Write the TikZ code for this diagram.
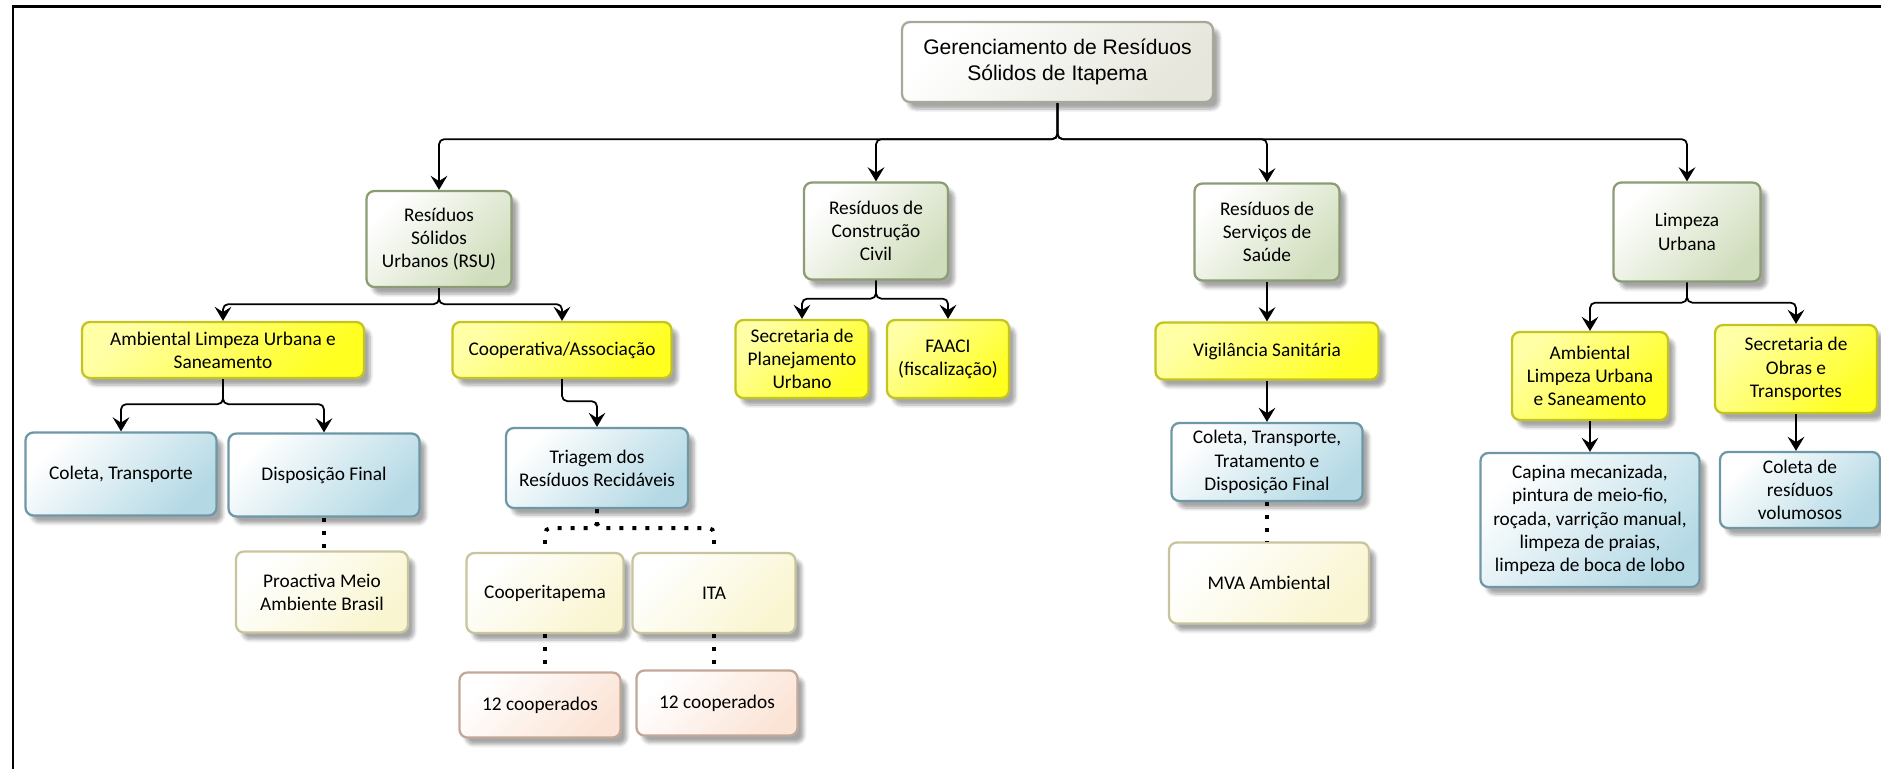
\documentclass[tikz,border=0pt]{standalone}
\usepackage{fontspec}
\setmainfont{Carlito}
\newfontfamily\rootfont{Liberation Sans}
\usetikzlibrary{arrows.meta,shadows.blur}

\definecolor{rootline}{HTML}{A8A898}
\definecolor{rootfill}{HTML}{E6E6DC}
\definecolor{greenline}{HTML}{8C9C74}
\definecolor{greenfill}{HTML}{D0DDBC}
\definecolor{yellowline}{HTML}{C4C420}
\definecolor{yellowfill}{HTML}{FFFF20}
\definecolor{blueline}{HTML}{6E98A6}
\definecolor{bluefill}{HTML}{B4D9E5}
\definecolor{creamline}{HTML}{C8C59E}
\definecolor{creamfill}{HTML}{F9F5D0}
\definecolor{peachline}{HTML}{C2A898}
\definecolor{peachfill}{HTML}{FBE4D6}

\tikzset{
 orgbox/.style={draw, rounded corners=4.5pt, line width=1.3pt, align=center, inner sep=2pt,
  blur shadow={shadow xshift=3.5pt, shadow yshift=-4pt, shadow blur steps=6, shadow opacity=35}},
 sz/.style 2 args={minimum width=#1*0.02cm, minimum height=#2*0.02cm},
 rootbox/.style={orgbox, draw=rootline, top color=white, bottom color=rootfill, shading angle=45,
  font=\rootfont\fontsize{12}{14.5}\selectfont},
 greenbox/.style={orgbox, draw=greenline, top color=white, bottom color=greenfill, shading angle=45},
 yellowbox/.style={orgbox, draw=yellowline, top color=yellow!35, bottom color=yellowfill, shading angle=45},
 bluebox/.style={orgbox, draw=blueline, top color=white, bottom color=bluefill, shading angle=45},
 creambox/.style={orgbox, draw=creamline, top color=white, bottom color=creamfill, shading angle=45},
 peachbox/.style={orgbox, draw=peachline, top color=white, bottom color=peachfill, shading angle=45},
 link/.style={-{Stealth[length=8pt,width=9.5pt,inset=3pt]}, line width=1pt, rounded corners=3pt},
 dots/.style={line width=2.2pt, dash pattern=on 2.2pt off 5.2pt, rounded corners=3pt}
}

\begin{document}
\begin{tikzpicture}[x=0.02cm, y=-0.02cm, font=\fontsize{11}{13.2}\selectfont]
 \useasboundingbox (0,0) rectangle (1881,769);
 \draw[line width=1.7pt] (13,769) -- (13,6) -- (1881,6);

 % top
 \node[rootbox, sz={311}{80}] (root) at (1057.5,62) {Gerenciamento de Resíduos\\Sólidos de Itapema};

 % first level
 \node[greenbox, sz={145}{96}] (rsu) at (439,239) {Resíduos\\Sólidos\\Urbanos (RSU)};
 \node[greenbox, sz={144}{97}] (cc) at (876,231) {Resíduos de\\Construção\\Civil};
 \node[greenbox, sz={145}{97}] (saude) at (1267,232) {Resíduos de\\Serviços de\\Saúde};
 \node[greenbox, sz={147}{99}] (limpeza) at (1687,232) {Limpeza\\Urbana};

 % second level
 \node[yellowbox, sz={282}{56}] (amb) at (223,350) {Ambiental Limpeza Urbana e\\Saneamento};
 \node[yellowbox, sz={219}{56}] (coop) at (562,350) {Cooperativa/Associação};
 \node[yellowbox, sz={133}{78}] (secplan) at (802,359) {Secretaria de\\Planejamento\\Urbano};
 \node[yellowbox, sz={122}{78}] (faaci) at (948,359) {FAACI\\(fiscalização)};
 \node[yellowbox, sz={223}{57}] (vigil) at (1267,351) {Vigilância Sanitária};
 \node[yellowbox, sz={156}{88}] (amblu) at (1590,376) {Ambiental\\Limpeza Urbana\\e Saneamento};
 \node[yellowbox, sz={162}{88}] (secobras) at (1796,369) {Secretaria de\\Obras e\\Transportes};

 % third level
 \node[bluebox, sz={191}{83}] (coleta) at (121,474) {Coleta, Transporte};
 \node[bluebox, sz={191}{83}] (dispfin) at (324,475) {Disposição Final};
 \node[bluebox, sz={182}{80}] (triagem) at (597,468) {Triagem dos\\Resíduos Recidáveis};
 \node[bluebox, sz={191}{78}] (coletasaude) at (1267,462) {Coleta, Transporte,\\Tratamento e\\Disposição Final};
 \node[bluebox, sz={219}{134}] (capina) at (1590,520) {Capina mecanizada,\\pintura de meio-fio,\\roçada, varrição manual,\\limpeza de praias,\\limpeza de boca de lobo};
 \node[bluebox, sz={160}{76}] (volumosos) at (1800,490) {Coleta de\\resíduos\\volumosos};

 % executors
 \node[creambox, sz={172}{81}] (proactiva) at (322,592) {Proactiva Meio\\Ambiente Brasil};
 \node[creambox, sz={157}{80}] (cooperit) at (545,593) {Cooperitapema};
 \node[creambox, sz={163}{80}] (ita) at (714,593) {ITA};
 \node[creambox, sz={200}{81}] (mva) at (1269,583) {MVA Ambiental};
 \node[peachbox, sz={161}{65}] (coopa) at (540,705) {12 cooperados};
 \node[peachbox, sz={161}{65}] (coopb) at (717,703) {12 cooperados};

 % arrows
 \foreach \n in {rsu,cc,saude,limpeza}
 \draw[link] (root.south) -- ++(0,36) -| (\n.north);
 \foreach \n in {amb,coop}
 \draw[link] (rsu.south) -- ++(0,16) -| (\n.north);
 \foreach \n in {coleta,dispfin}
 \draw[link] (amb.south) -- ++(0,25) -| (\n.north);
 \foreach \n in {secplan,faaci}
 \draw[link] (cc.south) -- ++(0,18) -| (\n.north);
 \foreach \n in {amblu,secobras}
 \draw[link] (limpeza.south) -- ++(0,20) -| (\n.north);
 \draw[link] (coop.south) -- ++(0,22) -| (triagem.north);
 \draw[link] (saude) -- (vigil);
 \draw[link] (vigil) -- (coletasaude);
 \draw[link] (amblu) -- (capina);
 \draw[link] (secobras.south) -- (secobras.south |- volumosos.north);

 % dotted
 \foreach \n in {cooperit,ita}
 \draw[dots] (triagem.south) -- ++(0,19) -| (\n.north);
 \draw[dots] (dispfin.south) -- (dispfin.south |- proactiva.north);
 \draw[dots] (coletasaude.south) -- (coletasaude.south |- mva.north);
 \draw[dots] (cooperit.south) -- (cooperit.south |- coopa.north);
 \draw[dots] (ita.south) -- (ita.south |- coopb.north);
\end{tikzpicture}
\end{document}
